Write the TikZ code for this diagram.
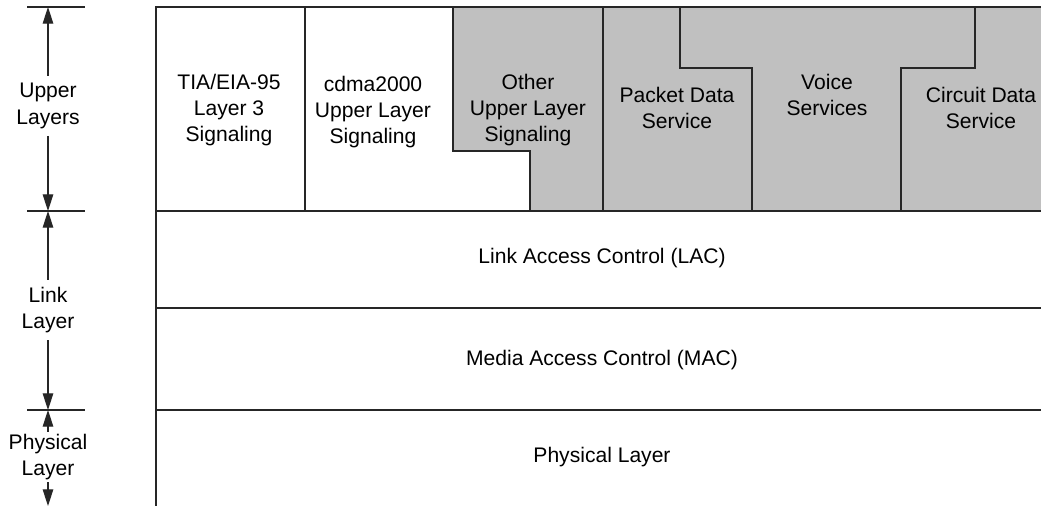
\documentclass[tikz,border=0pt]{standalone}
\usepackage{fontspec}
\setmainfont{Liberation Sans}
\usepackage{tikz}
\usetikzlibrary{positioning,arrows.meta}
\usepackage{xcolor}
\definecolor{svcgray}{RGB}{192,192,192}
\tikzset{
  lbl/.style={align=center,font=\fontsize{12}{15}\selectfont,inner sep=2pt},
  ln/.style={line width=0.7pt,draw=black!85},
  dim/.style={line width=0.7pt,draw=black!85,-{Triangle[length=9.5pt,width=6pt]}}
}
\begin{document}
\begin{tikzpicture}[x=0.02cm,y=-0.02cm]
\useasboundingbox (0,0) rectangle (1041,506);
\fill[svcgray] (453,7) -- (1041,7) -- (1041,211) -- (530,211) -- (530,151) -- (453,151) -- cycle;
\draw[ln] (1041,7) -- (156,7) -- (156,506);
\draw[ln] (156,211) -- (1041,211);
\draw[ln] (156,308) -- (1041,308);
\draw[ln] (156,410) -- (1041,410);
\draw[ln] (305,7) -- (305,211);
\draw[ln] (453,7) -- (453,151) -- (530,151) -- (530,211);
\draw[ln] (603,7) -- (603,211);
\draw[ln] (680,7) -- (680,68) -- (752,68) -- (752,211);
\draw[ln] (975,7) -- (975,68) -- (901,68) -- (901,211);
\node[lbl] (tia) at (229,110) {TIA/EIA-95\\Layer 3\\Signaling};
\node[lbl] (cdma) at (373,112) {cdma2000\\Upper Layer\\Signaling};
\node[lbl] (other) at (528,110) {Other\\Upper Layer\\Signaling};
\node[lbl] (pds) at (677,108) {Packet Data\\Service};
\node[lbl] (voice) at (827,95) {Voice\\Services};
\node[lbl] (cds) at (981,108) {Circuit Data\\Service};
\node[lbl] (lac) at (602,258) {Link Access Control (LAC)};
\node[lbl] (mac) at (602,360) {Media Access Control (MAC)};
\node[lbl] (phy) at (602,457) {Physical Layer};
% layer extents on the left
\draw[ln] (27,7) -- (85,7);
\draw[ln] (27,211) -- (85,211);
\draw[ln] (27,410) -- (85,410);
\coordinate (ut) at (48,7);
\coordinate (ub) at (48,211);
\coordinate (lb) at (48,410);
\coordinate (pb) at (48,506);
\node[lbl,inner sep=4pt] (upper) at (48,106) {Upper\\Layers};
\node[lbl,inner sep=4pt] (link) at (48,310) {Link\\Layer};
\node[lbl,inner sep=1pt] (phys) at (48,457) {Physical\\Layer};
\draw[dim] (upper) -- (ut);
\draw[dim] (upper) -- (ub);
\draw[dim] (link) -- (ub);
\draw[dim] (link) -- (lb);
\draw[dim] (phys) -- (lb);
\draw[dim] (phys) -- (pb);
\end{tikzpicture}
\end{document}
